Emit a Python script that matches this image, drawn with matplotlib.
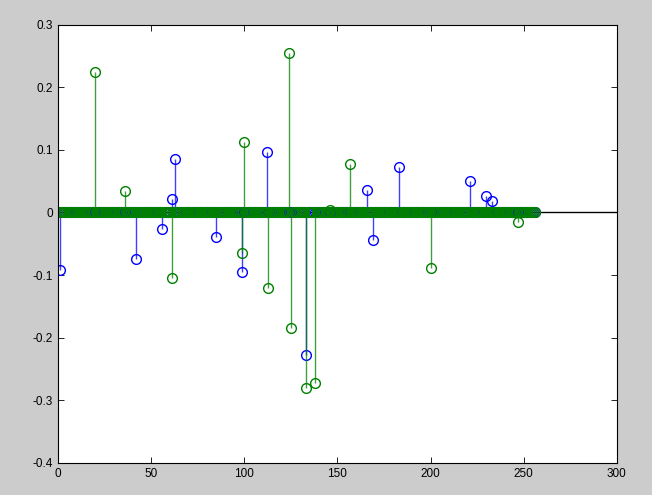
import numpy as np
import matplotlib
matplotlib.use('Agg')
import matplotlib.pyplot as plt

# 256 coefficients per series, most are zero; only the non-zero ones are listed
n_points = 256

blue_idx = [1, 42, 56, 61, 63, 85, 99, 112, 133, 166, 169, 183, 221, 230, 233]
blue_val = [-0.092, -0.074, -0.026, 0.021, 0.086, -0.039, -0.095, 0.097,
            -0.227, 0.036, -0.044, 0.072, 0.051, 0.026, 0.018]

green_idx = [20, 36, 61, 99, 100, 113, 124, 125, 133, 138, 146, 157, 200, 247]
green_val = [0.224, 0.035, -0.104, -0.065, 0.113, -0.121, 0.255, -0.184,
             -0.280, -0.273, 0.004, 0.078, -0.088, -0.015]

xticks = [0, 50, 100, 150, 200, 250, 300]
yticks = [-0.4, -0.3, -0.2, -0.1, 0, 0.1, 0.2, 0.3]
ytick_labels = ['-0.4', '-0.3', '-0.2', '-0.1', '0', '0.1', '0.2', '0.3']

x = np.arange(1, n_points + 1)
blue = np.zeros(n_points)
blue[np.array(blue_idx) - 1] = blue_val
green = np.zeros(n_points)
green[np.array(green_idx) - 1] = green_val

plt.rcParams['font.family'] = ['Liberation Sans', 'DejaVu Sans']

fig = plt.figure(figsize=(6.52, 4.95), dpi=100, facecolor='#cccccc')
ax = fig.add_axes([0.089, 0.065, 0.857, 0.885])

ax.axhline(0, color='k', lw=1.0, zorder=1)

for y, col in [(blue, '#0000ff'), (green, '#008000')]:
    markers, stems, base = ax.stem(x, y, linefmt='-', markerfmt='o', basefmt=' ')
    plt.setp(stems, color=col, lw=1.0, alpha=0.75)
    plt.setp(markers, markeredgecolor=col, markerfacecolor='none',
             markersize=7, markeredgewidth=1.0)
    base.set_visible(False)

ax.set_xlim(0, 300)
ax.set_ylim(-0.4, 0.3)
ax.set_xticks(xticks)
ax.set_yticks(yticks)
ax.set_yticklabels(ytick_labels)
ax.tick_params(direction='in', length=4, labelsize=8.5, top=True, right=True,
               width=0.6)
for s in ax.spines.values():
    s.set_linewidth(0.8)

fig.savefig('out.png', dpi=100, facecolor=fig.get_facecolor())
